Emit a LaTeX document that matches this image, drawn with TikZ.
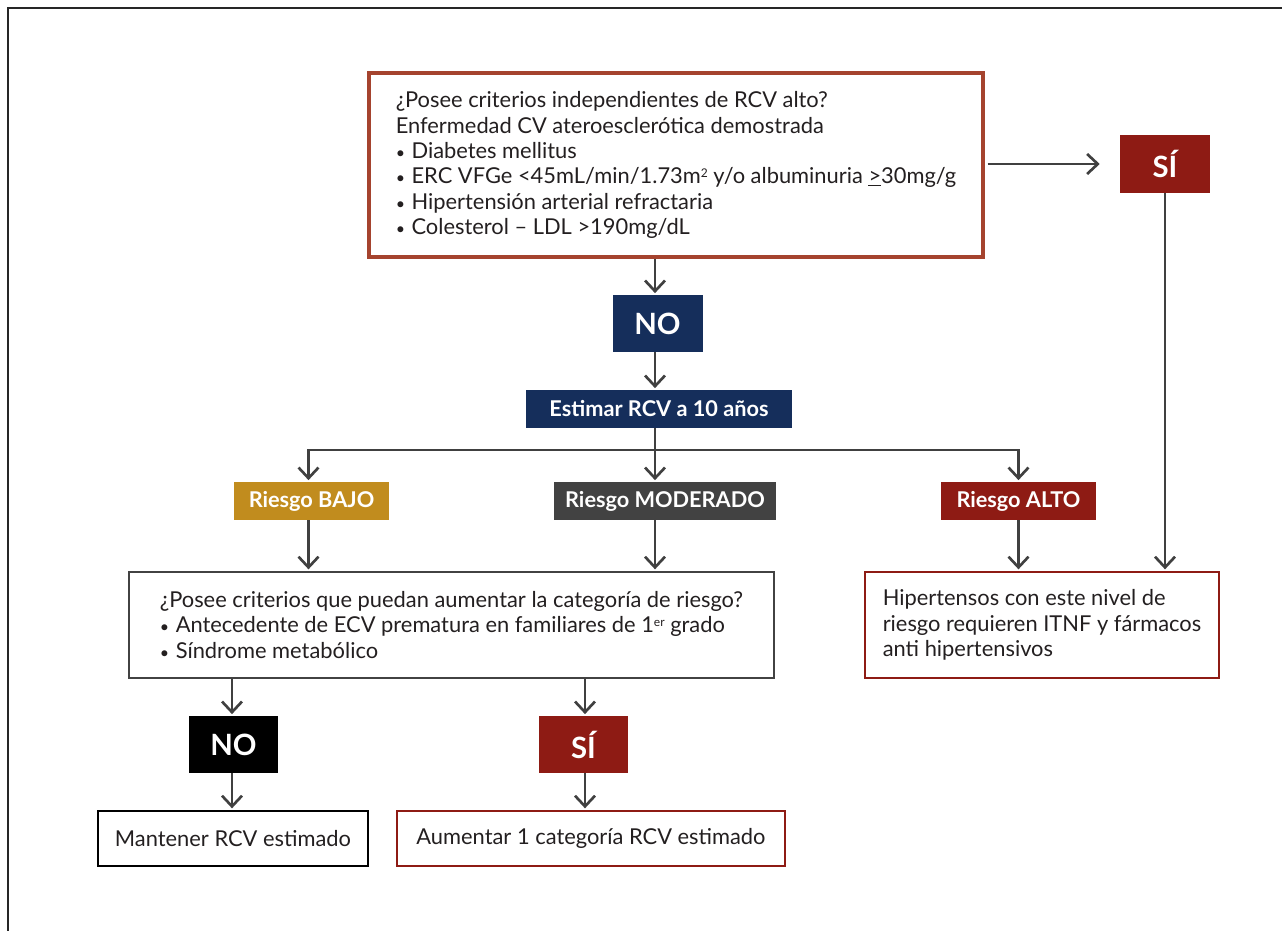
\documentclass[tikz,border=0pt]{standalone}
\usepackage{fontspec}
\setmainfont{Lato}
\usetikzlibrary{arrows.meta}
\definecolor{topred}{RGB}{165,67,46}
\definecolor{dred}{RGB}{142,27,20}
\definecolor{navy}{RGB}{21,46,91}
\definecolor{gold}{RGB}{193,140,30}
\definecolor{dgray}{RGB}{66,66,66}
\definecolor{agray}{RGB}{64,64,64}
\definecolor{txt}{RGB}{35,31,32}
\newcommand{\bul}{{\fontsize{12}{12}\selectfont •}\hspace{0.3em}}
\newcommand{\sups}[1]{\raisebox{0.55ex}{\fontsize{9}{9}\selectfont #1}}
\begin{document}
\begin{tikzpicture}[x=0.75pt,y=-0.75pt,
  sz/.style 2 args={minimum width=#1*0.75pt, minimum height=#2*0.75pt},
  body/.style={font=\fontsize{16.4}{19}\selectfont, text=txt, align=left, inner sep=0pt},
  lab/.style={text=white, inner sep=0pt, font=\bfseries\fontsize{16.3}{18}\selectfont},
  big/.style={text=white, inner sep=0pt, font=\bfseries\fontsize{22}{24}\selectfont},
  arr/.style={draw=agray, line width=2pt, -{Straight Barb[length=8pt,width=15pt]}, shorten >=1.2pt},
  ln/.style={draw=agray, line width=2pt}
]
\useasboundingbox (0,0) rectangle (1282,931);
\draw[line width=1.1pt, black!85] (8,931) -- (8,8) -- (1282,8);

\node[body, draw=topred, line width=3pt, sz={614}{184}] (top) at (676,165)
 {¿Posee criterios independientes de RCV alto?\\
  Enfermedad CV ateroesclerótica demostrada\\
  \bul Diabetes mellitus\\
  \bul ERC VFGe <45mL/min/1.73m\sups{2} y/o albuminuria \underline{>}30mg/g\\
  \bul Hipertensión arterial refractaria\\
  \bul Colesterol – LDL >190mg/dL};

\node[big, fill=dred, sz={90}{58}] (siA) at (1165,164) {SÍ};
\node[big, fill=navy, sz={90}{57}] (no1) at (657.5,323.5) {NO};
\node[lab, fill=navy, sz={266}{38}] (est) at (659,409) {Estimar RCV a 10 años};
\node[lab, fill=gold, sz={155}{38}] (bajo) at (311.5,501) {Riesgo BAJO};
\node[lab, fill=dgray, sz={222}{38}] (mod) at (665,501) {Riesgo MODERADO};
\node[lab, fill=dred, sz={155}{38}] (alto) at (1018.5,501) {Riesgo ALTO};

\node[body, draw=dgray, line width=1.6pt, sz={645}{106}] (q2) at (451.5,625)
 {¿Posee criterios que puedan aumentar la categoría de riesgo?\\
  \bul Antecedente de ECV prematura en familiares de 1\sups{er} grado\\
  \bul Síndrome metabólico};
\node[body, draw=dred, line width=1.6pt, sz={354}{106}] (hip) at (1042,625)
 {Hipertensos con este nivel de\\
  riesgo requieren ITNF y fármacos\\
  anti hipertensivos};

\node[big, fill=black, sz={89}{57}] (no2) at (233.5,744.5) {NO};
\node[big, fill=dred, sz={89}{57}] (si2) at (583.5,744.5) {SÍ};
\node[body, draw=black, line width=1.6pt, sz={270}{55}] (mant) at (233,838.5) {Mantener RCV estimado};
\node[body, draw=dred, line width=1.6pt, sz={388}{55}] (aum) at (591,838.5) {Aumentar 1 categoría RCV estimado};

\coordinate (split) at (655,450);

\draw[arr, shorten <=2pt, shorten >=15pt] (siA.west -| top.east) -- (siA.west);
\draw[arr] (siA.south) -- (siA.south |- hip.north);
\draw[arr] (split |- top.south) -- (split |- no1.north);
\draw[arr] (split |- no1.south) -- (split |- est.north);
\draw[ln] (split |- est.south) -- (split);
\draw[arr] (split) -| ([xshift=-3*0.75pt]bajo.north);
\draw[arr] (split) -| (alto.north);
\draw[arr] (split) -- (split |- mod.north);
\draw[arr] ([xshift=-3*0.75pt]bajo.south) -- ([xshift=-3*0.75pt]bajo.south |- q2.north);
\draw[arr] (split |- mod.south) -- (split |- q2.north);
\draw[arr] (alto.south) -- (alto.south |- hip.north);
\draw[arr] ([xshift=-1.5*0.75pt]no2.north |- q2.south) -- ([xshift=-1.5*0.75pt]no2.north);
\draw[arr] ([xshift=1.5*0.75pt]si2.north |- q2.south) -- ([xshift=1.5*0.75pt]si2.north);
\draw[arr] ([xshift=-1.5*0.75pt]no2.south) -- ([xshift=-1.5*0.75pt]no2.south |- mant.north);
\draw[arr] ([xshift=1.5*0.75pt]si2.south) -- ([xshift=1.5*0.75pt]si2.south |- aum.north);
\end{tikzpicture}
\end{document}
